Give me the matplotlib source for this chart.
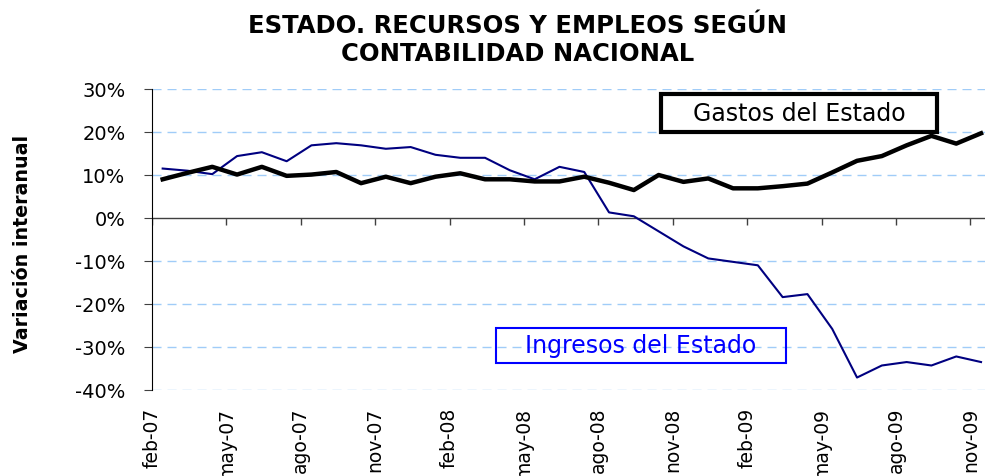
import matplotlib.pyplot as plt
import matplotlib.patches as mpatches
from matplotlib.ticker import FuncFormatter


# Monthly series, feb-07 .. nov-09 (year-on-year change, %)
months = ['feb-07', 'mar-07', 'abr-07', 'may-07', 'jun-07', 'jul-07', 'ago-07',
          'sep-07', 'oct-07', 'nov-07', 'dic-07', 'ene-08', 'feb-08', 'mar-08',
          'abr-08', 'may-08', 'jun-08', 'jul-08', 'ago-08', 'sep-08', 'oct-08',
          'nov-08', 'dic-08', 'ene-09', 'feb-09', 'mar-09', 'abr-09', 'may-09',
          'jun-09', 'jul-09', 'ago-09', 'sep-09', 'oct-09', 'nov-09']

ingresos = [11.5, 11.0, 10.2, 14.4, 15.3, 13.2, 16.9, 17.4, 16.9, 16.1, 16.5, 14.7,
            14.0, 14.0, 11.1, 9.0, 11.9, 10.7, 1.3, 0.4, -3.1, -6.6, -9.4, -10.2,
            -11.0, -18.4, -17.7, -25.8, -37.1, -34.3, -33.5, -34.3, -32.2, -33.5]

gastos = [9.0, 10.5, 11.9, 10.1, 11.9, 9.8, 10.1, 10.7, 8.1, 9.6, 8.1, 9.6,
          10.4, 9.0, 9.0, 8.5, 8.5, 9.6, 8.2, 6.5, 10.0, 8.4, 9.2, 6.9,
          6.9, 7.4, 8.0, 10.6, 13.3, 14.4, 16.9, 19.1, 17.3, 19.7]

y_ticks = [-40, -30, -20, -10, 0, 10, 20, 30]

title = 'ESTADO. RECURSOS Y EMPLEOS SEGÚN\nCONTABILIDAD NACIONAL'
y_label = 'Variación interanual'
label_gastos = 'Gastos del Estado'
label_ingresos = 'Ingresos del Estado'


def plot_estado(output_png='out.png'):
    plt.rcParams['font.family'] = ['DejaVu Sans']

    W, H = 985, 477
    fig = plt.figure(figsize=(W / 100, H / 100), dpi=100)
    # plot area in pixels: left 152, top 90, bottom 391, runs off the right edge
    ax = fig.add_axes([152 / W, 1 - 391 / H, 833 / W, 301 / H])

    x = list(range(len(months)))
    ax.set_xlim(-0.43, 33.16)
    ax.set_ylim(-40, 30)

    # dashed light blue grid, zero line is the category axis
    for v in y_ticks:
        if v != 0:
            ax.axhline(v, color='#A0CCF8', lw=1, ls=(0, (6.5, 4.3)), zorder=0)

    tick_pos = [i - 0.43 for i in range(0, len(months), 3)]
    ax.axhline(0, color='#404040', lw=1, zorder=1)
    ax.plot(tick_pos, [0] * len(tick_pos), ls='none', marker=3, ms=5,
            mew=1, color='#404040', zorder=1)

    ax.plot(x, ingresos, color='#000080', lw=1.5, zorder=3)
    ax.plot(x, gastos, color='black', lw=3.2, zorder=4)

    ax.set_xticks(tick_pos, months[::3], rotation=90, fontsize=13.5)
    ax.tick_params(axis='x', length=0, pad=12)

    ax.set_yticks(y_ticks)
    ax.yaxis.set_major_formatter(FuncFormatter(lambda v, p: f'{v:.0f}%'))
    ax.tick_params(axis='y', length=6, color='#404040', pad=13, labelsize=14)

    for s in ['top', 'right', 'bottom']:
        ax.spines[s].set_visible(False)
    ax.spines['left'].set_color('black')

    # Labels in boxes
    box_g = mpatches.Rectangle((0.611, 0.857), 0.3313, 0.1262, transform=ax.transAxes,
                               facecolor='white', edgecolor='black', lw=3,
                               clip_on=False, zorder=5)
    ax.add_patch(box_g)
    ax.text(0.611 + 0.3313 / 2, 0.857 + 0.1262 / 2, label_gastos, transform=ax.transAxes,
            ha='center', va='center', fontsize=17, color='black', zorder=6)

    box_i = mpatches.Rectangle((0.413, 0.0897), 0.348, 0.1163, transform=ax.transAxes,
                               facecolor='none', edgecolor='#0000FF', lw=1.5,
                               clip_on=False, zorder=5)
    ax.add_patch(box_i)
    ax.text(0.413 + 0.348 / 2, 0.0897 + 0.1163 / 2, label_ingresos, transform=ax.transAxes,
            ha='center', va='center', fontsize=17, color='#0000FF', zorder=6)

    fig.text(518 / W, 1 - 40 / H, title, ha='center', va='center',
             fontsize=17.5, fontweight='bold', linespacing=1.25)
    fig.text(22.5 / W, 1 - 244 / H, y_label, rotation=90, ha='center', va='center',
             fontsize=13.7, fontweight='bold')

    fig.savefig(output_png, dpi=100)
    print(f"Plot saved to {output_png}")
    plt.close(fig)


if __name__ == "__main__":
    plot_estado()
